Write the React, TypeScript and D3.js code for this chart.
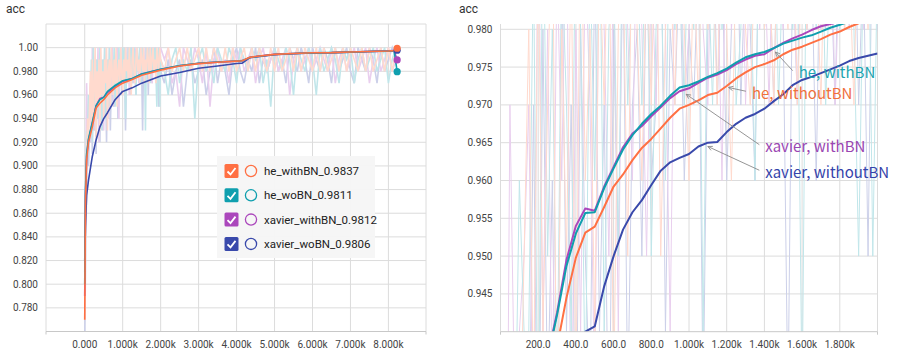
import * as d3 from 'd3';

// series, in legend order
const seriesNames = ['he_withBN', 'he_woBN', 'xavier_withBN', 'xavier_woBN'];
const legendValues = ['0.9837', '0.9811', '0.9812', '0.9806'];
const seriesColors = ['#ff7043', '#0f9fae', '#ab47bc', '#3949ab'];

// smoothed curves, whole run (left panel)
const overviewSteps = [0, 20, 50, 100, 200, 300, 400, 500, 600, 800, 1000, 1250, 1500, 2000, 2500, 3000, 3500, 4000, 4150, 4350, 4500, 5000, 5500, 6000, 6500, 7000, 7500, 8000, 8150, 8230];
const overviewHeWithBN = [0.770, 0.870, 0.905, 0.920, 0.933, 0.949, 0.953, 0.956, 0.960, 0.966, 0.970, 0.973, 0.9767, 0.981, 0.9845, 0.9865, 0.9877, 0.9886, 0.9889, 0.9918, 0.9925, 0.9943, 0.9951, 0.9957, 0.9958, 0.9963, 0.9968, 0.9972, 0.9975, 0.9995];
const overviewHeWoBN = [0.800, 0.880, 0.910, 0.923, 0.937, 0.951, 0.956, 0.958, 0.963, 0.968, 0.972, 0.974, 0.9778, 0.9817, 0.9848, 0.9868, 0.9879, 0.9887, 0.9890, 0.9917, 0.9923, 0.9942, 0.9950, 0.9956, 0.9958, 0.9962, 0.9967, 0.9971, 0.9974, 0.9797];
const overviewXavierWithBN = [0.790, 0.875, 0.908, 0.922, 0.936, 0.951, 0.957, 0.958, 0.962, 0.967, 0.9715, 0.9738, 0.9778, 0.9818, 0.9847, 0.9867, 0.9878, 0.9886, 0.9889, 0.9917, 0.9924, 0.9943, 0.9951, 0.9957, 0.9958, 0.9963, 0.9968, 0.9973, 0.9976, 0.9896];
const overviewXavierWoBN = [0.820, 0.850, 0.875, 0.888, 0.908, 0.922, 0.933, 0.940, 0.945, 0.956, 0.963, 0.966, 0.970, 0.976, 0.979, 0.9826, 0.9845, 0.9866, 0.9869, 0.9916, 0.9922, 0.9941, 0.9949, 0.9955, 0.9957, 0.9962, 0.9967, 0.9972, 0.9975, 0.9978];

// smoothed curves, zoomed view (right panel)
const detailSteps = [250, 300, 350, 400, 450, 500, 550, 600, 650, 700, 750, 800, 850, 900, 950, 1000, 1050, 1100, 1150, 1200, 1250, 1300, 1350, 1400, 1450, 1500, 1550, 1600, 1650, 1700, 1750, 1800, 1850, 1900, 1950, 2000];
const detailHeWithBN = [0.932, 0.938, 0.9445, 0.9498, 0.9531, 0.9539, 0.9565, 0.9592, 0.9608, 0.9627, 0.9643, 0.9655, 0.9669, 0.9683, 0.9695, 0.9700, 0.9706, 0.9713, 0.9716, 0.9725, 0.9735, 0.9743, 0.9750, 0.9754, 0.9759, 0.9767, 0.9773, 0.9777, 0.9782, 0.9787, 0.9793, 0.9797, 0.9803, 0.9808, 0.9812, 0.9816];
const detailHeWoBN = [0.9365, 0.9422, 0.9487, 0.9530, 0.9557, 0.9558, 0.9590, 0.9616, 0.9641, 0.9660, 0.9675, 0.9688, 0.9699, 0.9712, 0.9723, 0.9726, 0.9731, 0.9737, 0.9742, 0.9748, 0.9756, 0.9763, 0.9767, 0.9770, 0.9775, 0.9781, 0.9785, 0.9789, 0.9792, 0.9797, 0.9802, 0.9806, 0.9810, 0.9813, 0.9816, 0.9819];
const detailXavierWithBN = [0.9368, 0.9425, 0.9495, 0.9540, 0.9563, 0.9560, 0.9592, 0.9618, 0.9644, 0.9662, 0.9672, 0.9685, 0.9697, 0.9709, 0.9718, 0.9722, 0.9729, 0.9736, 0.9740, 0.9746, 0.9754, 0.9760, 0.9765, 0.9767, 0.9775, 0.9782, 0.9788, 0.9793, 0.9799, 0.9804, 0.9807, 0.9810, 0.9813, 0.9816, 0.9818, 0.9821];
const detailXavierWoBN = [0.918, 0.925, 0.930, 0.935, 0.9400, 0.9407, 0.9460, 0.9500, 0.9535, 0.9558, 0.9574, 0.9594, 0.9613, 0.9624, 0.9630, 0.9635, 0.9645, 0.9650, 0.9651, 0.9664, 0.9675, 0.9683, 0.9688, 0.9695, 0.9705, 0.9714, 0.9726, 0.9733, 0.9737, 0.9742, 0.9747, 0.9752, 0.9758, 0.9762, 0.9765, 0.9768];

// raw batch results: errors out of 100
const rawSteps = [0, 25, 50, 75, 100, 125, 150, 175, 200, 225, 250, 275, 300, 325, 350, 375, 400, 425, 450, 475, 500, 525, 550, 575, 600, 625, 650, 675, 700, 725, 750, 775, 800, 825, 850, 875, 900, 925, 950, 975, 1000, 1025, 1050, 1075, 1100, 1125, 1150, 1175, 1200, 1225, 1250, 1275, 1300, 1325, 1350, 1375, 1400, 1425, 1450, 1475, 1500, 1525, 1550, 1575, 1600, 1625, 1650, 1675, 1700, 1725, 1750, 1775, 1800, 1825, 1850, 1875, 1900, 1925, 1950, 1975, 2000,
  2100, 2200, 2300, 2400, 2500, 2600, 2700, 2800, 2900, 3000, 3100, 3200, 3300, 3400, 3500, 3600, 3700, 3800, 3900, 4000, 4100, 4200, 4300, 4400, 4500, 4600, 4700, 4800, 4900, 5000, 5100, 5200, 5300, 5400, 5500, 5600, 5700, 5800, 5900, 6000, 6100, 6200, 6300, 6400, 6500, 6600, 6700, 6800, 6900, 7000, 7100, 7200, 7300, 7400, 7500, 7600, 7700, 7800, 7900, 8000, 8100, 8200];
const rawHeWithBN = [23, 14, 9, 6, 8, 5,
  2, 7, 1, 6, 3, 0, 8, 2, 5, 1, 7, 0, 4, 2, 6, 1, 3, 0, 7, 2, 1, 5, 0,
  2, 4, 1, 3, 0, 5, 2, 1, 3, 0, 2, 4,
  1, 3, 0, 2, 1, 3, 0, 2, 4, 1, 0, 2, 3, 1, 0, 2, 1, 3, 0, 1, 2, 0, 3, 1, 2, 0, 1, 3, 0, 2, 1, 0, 2, 1, 3, 0, 1, 2, 0, 1,
  2, 0, 2, 1, 0, 2, 0, 2, 1, 0, 2, 0, 2, 0, 1, 2, 0, 2, 0, 2, 1, 0, 2, 0, 2, 0, 1, 2, 0, 2,
  0, 2, 1, 0, 2, 0, 2, 0, 1, 2, 0, 2, 0, 2, 1, 0, 2, 0, 2, 0, 1, 2, 0, 2, 0, 2, 1, 0, 2, 0, 2, 0];
const rawHeWoBN = [19, 11, 7, 8, 4, 6,
  6, 1, 8, 0, 5, 2, 7, 1, 3, 6, 0, 2, 7, 1, 4, 0, 6, 2, 1, 5, 0, 3, 1,
  1, 3, 0, 5, 2, 1, 4, 0, 2, 1, 3, 0,
  2, 0, 6, 1, 3, 0, 2, 1, 0, 3, 2, 0, 1, 4, 0, 2, 1, 0, 3, 1, 0, 2, 1, 7, 0, 1, 2, 0, 3, 1, 0, 2, 1, 0, 2, 5, 1, 0, 5, 1,
  2, 4, 1, 0, 3, 1, 2, 0, 6, 1, 0, 2, 1, 3, 0, 1, 2, 0, 1, 3, 0, 1, 2, 0, 1, 0, 3, 1, 5, 0, 1, 2, 0, 1, 4, 0, 1, 2, 0, 1,
  4, 0, 2, 1, 0, 1, 3, 0, 1, 0, 3, 1, 0, 2, 1, 0, 2, 1, 0, 3, 1, 0];
const rawXavierWithBN = [21, 12, 3, 7, 6, 5,
  3, 8, 0, 6, 2, 7, 1, 4, 0, 8, 2, 6, 1, 3, 7, 0, 2, 5, 1, 6, 0, 2, 4,
  0, 2, 5, 1, 3, 0, 2, 6, 1, 0, 3, 2,
  1, 0, 2, 3, 0, 1, 4, 0, 2, 1, 0, 3, 1, 0, 2, 1, 3, 0, 1, 2, 0, 1, 3, 0, 2, 1, 0, 2, 1, 0, 3, 1, 0, 2, 0, 1, 2, 0, 1, 0,
  1, 0, 3, 2, 5, 0, 1, 2, 0, 1, 3, 0, 5, 1, 0, 2, 1, 3, 0, 1, 0, 2, 1, 0, 3, 1, 0, 2, 1, 0, 2, 1, 0, 4, 1, 0, 2, 1, 0, 2,
  1, 0, 1, 2, 0, 3, 1, 0, 2, 1, 0, 2, 1, 0, 3, 1, 0, 2, 1, 0, 2, 1];
const rawXavierWoBN = [25, 17, 12, 9, 10, 7,
  8, 3, 9, 2, 7, 4, 9, 1, 6, 3, 8, 2, 5, 7, 1, 6, 3, 8, 2, 5, 1, 7, 3,
  2, 5, 1, 4, 3, 0, 6, 2, 3, 1, 4, 2,
  3, 1, 7, 2, 0, 3, 1, 4, 2, 0, 3, 1, 2, 4, 0, 2, 1, 3, 0, 2, 7, 1, 3, 0, 2, 1, 4, 0, 2, 1, 3, 0, 2, 1, 0, 3, 1, 5, 0, 2,
  3, 1, 4, 2, 1, 5, 2, 1, 3, 2, 1, 4, 2, 0, 3, 1, 2, 4, 1, 0, 2, 3, 1, 2, 0, 3, 1, 2, 1, 0, 2, 1, 3, 0, 1, 2, 0, 1, 3, 0,
  1, 2, 0, 1, 3, 0, 2, 1, 0, 2, 3, 0, 1, 2, 0, 1, 3, 0, 2, 1, 0, 1];

// ticks
const leftXTicks = [0, 1000, 2000, 3000, 4000, 5000, 6000, 7000, 8000];
const leftXLabels = ['0.000', '1.000k', '2.000k', '3.000k', '4.000k', '5.000k', '6.000k', '7.000k', '8.000k'];
const leftYTicks = [0.78, 0.80, 0.82, 0.84, 0.86, 0.88, 0.90, 0.92, 0.94, 0.96, 0.98, 1.00];
const leftYLabels = ['0.780', '0.800', '0.820', '0.840', '0.860', '0.880', '0.900', '0.920', '0.940', '0.960', '0.980', '1.00'];
const rightXTicks = [200, 400, 600, 800, 1000, 1200, 1400, 1600, 1800];
const rightXLabels = ['200.0', '400.0', '600.0', '800.0', '1.000k', '1.200k', '1.400k', '1.600k', '1.800k'];
const rightYTicks = [0.945, 0.950, 0.955, 0.960, 0.965, 0.970, 0.975, 0.980];
const rightYLabels = ['0.945', '0.950', '0.955', '0.960', '0.965', '0.970', '0.975', '0.980'];

// hand annotations on the zoomed view
const noteLabels = ['he, withBN', 'he, withoutBN', 'xavier, withBN', 'xavier, withoutBN'];
const noteColors = ['#1ca4b0', '#f0703c', '#9a46b2', '#3443aa'];
const noteTipSteps = [1458, 1210, 985, 1100];
const noteTipValues = [0.9770, 0.9723, 0.9714, 0.9645];
const noteTextSteps = [1582, 1334, 1405, 1405];
const noteTextValues = [0.97426, 0.97154, 0.96447, 0.96109];

const tickFont = 'Roboto, "Noto Sans", sans-serif';
const gridColor = '#dcdcdc';

type Pt = [number, number];
const zip = (xs: number[], ys: number[]): Pt[] => ys.map((v, i) => [xs[i], v] as Pt);

const smoothOverview = [overviewHeWithBN, overviewHeWoBN, overviewXavierWithBN, overviewXavierWoBN].map(v => zip(overviewSteps, v));
const smoothDetail = [detailHeWithBN, detailHeWoBN, detailXavierWithBN, detailXavierWoBN].map(v => zip(detailSteps, v));
const raw = [rawHeWithBN, rawHeWoBN, rawXavierWithBN, rawXavierWoBN].map(e => zip(rawSteps, e.map(n => 1 - n / 100)));
// raw lines are drawn in opaque pale tints, so the last drawn one covers the others
const rawColors = seriesColors.map(c => d3.interpolateRgb('#ffffff', c)(0.26));

// drawing order: blue, purple, teal, orange on top
const order = [3, 2, 1, 0];

function Panel({ x, y, xTicks, xLabels, yTicks, yLabels, smooth, lineWidth, rawWidth, id, topLine, dots }: any) {
  const [x0, x1] = x.range();
  const [y0, y1] = y.range();
  const line = d3.line<Pt>().x(d => x(d[0])).y(d => y(d[1]));
  return (
    <g>
      <defs>
        <clipPath id={id}>
          <rect x={x0} y={y1} width={x1 - x0} height={y0 - y1} />
        </clipPath>
      </defs>
      {yTicks.map((t: number) => (
        <line key={'gy' + t} x1={x0} x2={x1} y1={y(t)} y2={y(t)} stroke={gridColor} />
      ))}
      {topLine && <line x1={x0} x2={x1} y1={y1} y2={y1} stroke={gridColor} />}
      {[x.domain()[0], ...xTicks, x.domain()[1]].map((t: number, i: number) => (
        <line key={'gx' + i} x1={x(t)} x2={x(t)} y1={y1} y2={y0} stroke={gridColor} />
      ))}
      <g clipPath={`url(#${id})`}>
        {order.map(i => (
          <path key={'r' + i} d={line(raw[i]) || ''} fill="none" stroke={rawColors[i]} strokeWidth={rawWidth} />
        ))}
        {order.map(i => (
          <path key={'s' + i} d={line(smooth[i]) || ''} fill="none" stroke={seriesColors[i]} strokeWidth={lineWidth} strokeLinejoin="round" />
        ))}
      </g>
      <line x1={x0} x2={x1} y1={y0} y2={y0} stroke="#c8c8c8" />
      <line x1={x0} x2={x0} y1={y0} y2={y0 + 3} stroke="#c8c8c8" />
      <line x1={x1} x2={x1} y1={y0} y2={y0 + 3} stroke="#c8c8c8" />
      {dots && order.map(i => {
        const last = smooth[i][smooth[i].length - 1];
        return <circle key={'d' + i} cx={x(last[0])} cy={y(last[1])} r={3.6} fill={seriesColors[i]} />;
      })}
      {yTicks.map((t: number, i: number) => (
        <text key={'ly' + t} x={x0 - 8} y={y(t)} dy="0.35em" textAnchor="end" fontSize={10} fill="#444" fontFamily={tickFont}>{yLabels[i]}</text>
      ))}
      {xTicks.map((t: number, i: number) => (
        <text key={'lx' + t} x={x(t)} y={347.5} textAnchor="middle" fontSize={10} fill="#444" fontFamily={tickFont}>{xLabels[i]}</text>
      ))}
    </g>
  );
}

export default function App() {
  const lx = d3.scaleLinear().domain([-1020, 8990]).range([46, 426]);
  const ly = d3.scaleLinear().domain([0.76, 1.02]).range([331.5, 24]);
  const rx = d3.scaleLinear().domain([0, 2000]).range([500.5, 877.5]);
  const ry = d3.scaleLinear().domain([0.94, 0.9807]).range([331.7, 24]);

  const legendX = 217, legendY = 156;

  return (
    <svg width={900} height={353} style={{ position: 'absolute', left: 0, top: 0, background: '#fff' }}>
      <text x={6} y={13} fontSize={12} fill="#333" fontFamily={tickFont}>acc</text>
      <text x={459} y={13} fontSize={12} fill="#333" fontFamily={tickFont}>acc</text>

      <Panel id="clipL" x={lx} y={ly} xTicks={leftXTicks} xLabels={leftXLabels} yTicks={leftYTicks} yLabels={leftYLabels}
        smooth={smoothOverview} lineWidth={1.6} rawWidth={1.6} topLine dots />
      <Panel id="clipR" x={rx} y={ry} xTicks={rightXTicks} xLabels={rightXLabels} yTicks={rightYTicks} yLabels={rightYLabels}
        smooth={smoothDetail} lineWidth={2} rawWidth={1} />

      {/* legend */}
      <rect x={legendX} y={legendY} width={158} height={102} fill="#f5f5f5" fillOpacity={0.95} />
      {seriesNames.map((name, i) => {
        const cy = legendY + 15 + i * 24.3;
        const bx = legendX + 7.5;
        return (
          <g key={name}>
            <rect x={bx} y={cy - 7} width={14} height={14} rx={1.5} fill={seriesColors[i]} />
            <path d={`M${bx + 3},${cy + 0.5} L${bx + 6},${cy + 3.5} L${bx + 11},${cy - 3}`} fill="none" stroke="#fff" strokeWidth={1.8} />
            <circle cx={legendX + 34} cy={cy} r={5.6} fill="none" stroke={seriesColors[i]} strokeWidth={1.3} />
            <text x={legendX + 47} y={cy} dy="0.35em" fontSize={11.5} fill="#222" fontFamily={tickFont}>{`${name}_${legendValues[i]}`}</text>
          </g>
        );
      })}

      {/* annotations */}
      {noteLabels.map((label, i) => {
        const tx = rx(noteTipSteps[i]), ty = ry(noteTipValues[i]);
        const sx = rx(noteTextSteps[i]) - 6, sy = ry(noteTextValues[i]) - 2;
        const a = Math.atan2(sy - ty, sx - tx);
        const h = 5;
        const p1 = [tx + h * Math.cos(a + 0.45), ty + h * Math.sin(a + 0.45)];
        const p2 = [tx + h * Math.cos(a - 0.45), ty + h * Math.sin(a - 0.45)];
        return (
          <g key={label}>
            <line x1={sx} y1={sy} x2={tx} y2={ty} stroke="#8a8a8a" strokeWidth={0.9} />
            <path d={`M${p1[0]},${p1[1]} L${tx},${ty} L${p2[0]},${p2[1]}`} fill="none" stroke="#8a8a8a" strokeWidth={0.9} />
            <text x={rx(noteTextSteps[i])} y={ry(noteTextValues[i])} dy="0.36em" fontSize={15} fill={noteColors[i]}
              fontFamily={'"Noto Sans CJK KR", "Noto Sans", sans-serif'}>{label}</text>
          </g>
        );
      })}
    </svg>
  );
}
